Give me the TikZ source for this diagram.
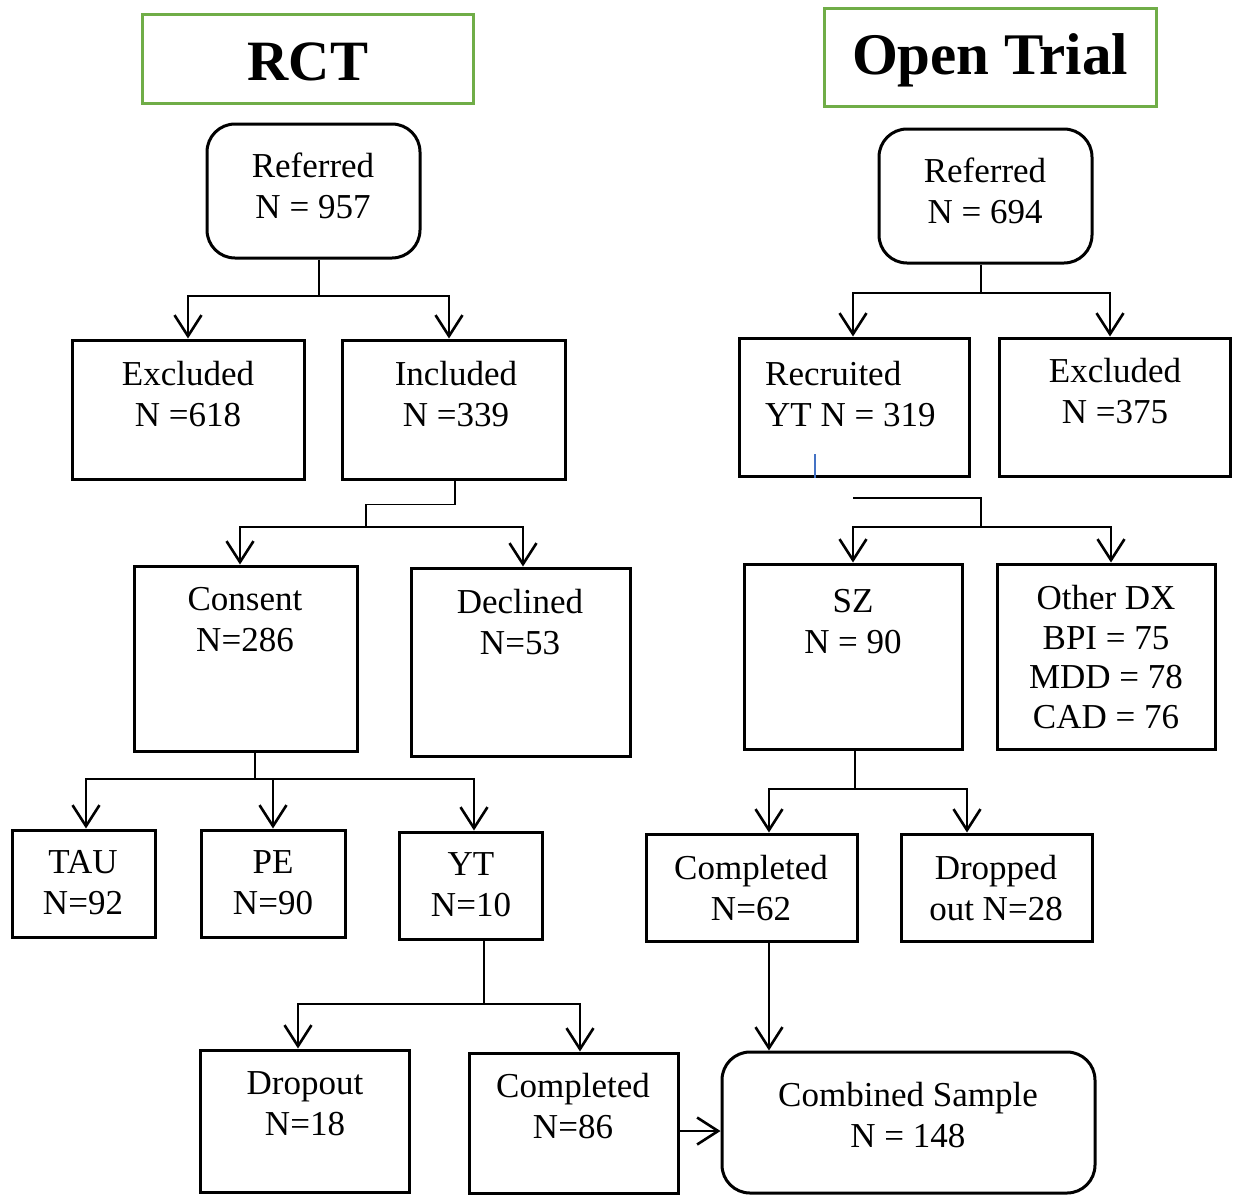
\documentclass[tikz,border=0pt]{standalone}
\usepackage{fontspec}
\setmainfont{Liberation Serif}
\usetikzlibrary{arrows.meta}
\definecolor{hdgreen}{RGB}{112,173,71}
\definecolor{strayblue}{RGB}{68,114,196}
\tikzset{
  box/.style={draw, line width=3pt, inner sep=0pt},
  rbox/.style={box, rounded corners=28pt},
  hdbox/.style={draw=hdgreen, line width=3pt, inner sep=0pt},
  txt/.style={align=center, inner sep=0pt, font=\fontsize{35}{41}\selectfont},
  hdtxt/.style={inner sep=0pt, font=\fontsize{57}{60}\selectfont\bfseries},
  line/.style={line width=1.8pt},
  arr/.style={line width=1.8pt, -{Straight Barb[length=21pt,width=27pt,line width=2.6pt]}}
}
\begin{document}
\begin{tikzpicture}[x=1pt,y=-1pt]
    \useasboundingbox (0,0) rectangle (1235,1195);

    % headers
    \node[hdbox, minimum width=331pt, minimum height=89pt] (hdA) at (307.5,58.5) {};
    \node[hdtxt] (hdAt) at (308,62) {RCT};
    \node[hdbox, minimum width=332pt, minimum height=98pt] (hdB) at (990,57) {};
    \node[hdtxt, font=\fontsize{59}{60}\selectfont\bfseries] (hdBt) at (990,60) {Open Trial};

    % RCT boxes
    \node[rbox, minimum width=213pt, minimum height=134pt] (refA) at (313.5,191) {};
    \node[txt] (refAt) at (313,186) {Referred\\N = 957};
    \node[box, minimum width=232pt, minimum height=139pt] (exA) at (188,409.5) {};
    \node[txt] (exAt) at (188,394) {Excluded\\N =618};
    \node[box, minimum width=223pt, minimum height=139pt] (inA) at (453.5,409.5) {};
    \node[txt] (inAt) at (456,394) {Included\\N =339};
    \node[box, minimum width=223pt, minimum height=185pt] (conA) at (245.5,658.5) {};
    \node[txt] (conAt) at (245,620) {Consent\\N=286};
    \node[box, minimum width=219pt, minimum height=188pt] (decA) at (520.5,662) {};
    \node[txt] (decAt) at (520,622) {Declined\\N=53};
    \node[box, minimum width=143pt, minimum height=107pt] (tauA) at (83.5,883.5) {};
    \node[txt] (tauAt) at (83,883) {TAU\\N=92};
    \node[box, minimum width=144pt, minimum height=107pt] (peA) at (273,883.5) {};
    \node[txt] (peAt) at (273,883) {PE\\N=90};
    \node[box, minimum width=143pt, minimum height=107pt] (ytA) at (470.5,885.5) {};
    \node[txt] (ytAt) at (471,885) {YT\\N=10};
    \node[box, minimum width=209pt, minimum height=142pt] (dropA) at (304.5,1121) {};
    \node[txt] (dropAt) at (305,1104) {Dropout\\N=18};
    \node[box, minimum width=209pt, minimum height=140pt] (compA) at (573.5,1123) {};
    \node[txt] (compAt) at (573,1106) {Completed\\N=86};

    % open trial boxes
    \node[rbox, minimum width=213pt, minimum height=134pt] (refB) at (985.5,196) {};
    \node[txt] (refBt) at (985,191) {Referred\\N = 694};
    \node[box, minimum width=230pt, minimum height=138pt] (recB) at (854,407) {};
    \node[txt, align=left, anchor=west] (recBt) at (765,394) {Recruited\\YT N = 319};
    \node[box, minimum width=231pt, minimum height=138pt] (exB) at (1114.5,407) {};
    \node[txt] (exBt) at (1115,391) {Excluded\\N =375};
    \node[box, minimum width=218pt, minimum height=185pt] (szB) at (853,656.5) {};
    \node[txt] (szBt) at (853,622) {SZ\\N = 90};
    \node[box, minimum width=218pt, minimum height=185pt] (odB) at (1106,656.5) {};
    \node[txt, font=\fontsize{35}{39.5}\selectfont] (odBt) at (1106,657) {Other DX\\BPI = 75\\MDD = 78\\CAD = 76};
    \node[box, minimum width=211pt, minimum height=107pt] (compB) at (751.5,887.5) {};
    \node[txt] (compBt) at (751,888) {Completed\\N=62};
    \node[box, minimum width=191pt, minimum height=107pt] (dropB) at (996.5,887.5) {};
    \node[txt] (dropBt) at (996,888) {Dropped\\out N=28};
    \node[rbox, minimum width=373pt, minimum height=141pt] (comb) at (908.5,1122.5) {};
    \node[txt] (combt) at (908,1115) {Combined Sample\\N = 148};

    % RCT connectors
    \coordinate (j1) at (319,296);
    \draw[line] (j1 |- refA.south) -- (j1);
    \draw[arr] (j1) -| (exA.north);
    \draw[arr] (j1) -| ([xshift=-4.5pt]inA.north);

    \coordinate (j2) at (366,527);
    \draw[line] ([xshift=1.5pt]inA.south) -- ++(0,24) -| (j2);
    \draw[arr] (j2) -| ([xshift=-5.5pt]conA.north);
    \draw[arr] (j2) -| ([xshift=2.5pt]decA.north);

    \coordinate (j3) at (255,779);
    \draw[line] (j3 |- conA.south) -- (j3);
    \draw[arr] (j3) -| ([xshift=2.5pt]tauA.north);
    \draw[arr] (j3) -| (peA.north);
    \draw[arr] (j3) -| ([xshift=3.5pt]ytA.north);

    \coordinate (j4) at (484,1004);
    \draw[line] (j4 |- ytA.south) -- (j4);
    \draw[arr] (j4) -| ([xshift=-6.5pt]dropA.north);
    \draw[arr] (j4) -| ([xshift=6.5pt]compA.north);

    \draw[arr] ([yshift=-8pt]compA.east) -- ([yshift=-8pt]compA.east -| comb.west);

    % open trial connectors
    \coordinate (j5) at (981,293);
    \draw[line] (j5 |- refB.south) -- (j5);
    \draw[arr] (j5) -| ([xshift=-1pt]recB.north);
    \draw[arr] (j5) -| ([xshift=-4.5pt]exB.north);

    \draw[strayblue, line width=1.5pt] ([xshift=-39pt]recB.south) -- ++(0,-24);

    \coordinate (j6a) at (853,498);
    \coordinate (j6) at (981,527);
    \draw[line] (j6a) -| (j6);
    \draw[arr] (j6) -| (szB.north);
    \draw[arr] (j6) -| ([xshift=5pt]odB.north);

    \coordinate (j7) at (855,789);
    \draw[line] ([xshift=2pt]szB.south) -- (j7);
    \draw[arr] (j7) -| ([xshift=17.5pt]compB.north);
    \draw[arr] (j7) -| ([xshift=-29.5pt]dropB.north);

    \draw[arr] ([xshift=17.5pt]compB.south) -- ([xshift=17.5pt]compB.south |- comb.north);
\end{tikzpicture}
\end{document}
